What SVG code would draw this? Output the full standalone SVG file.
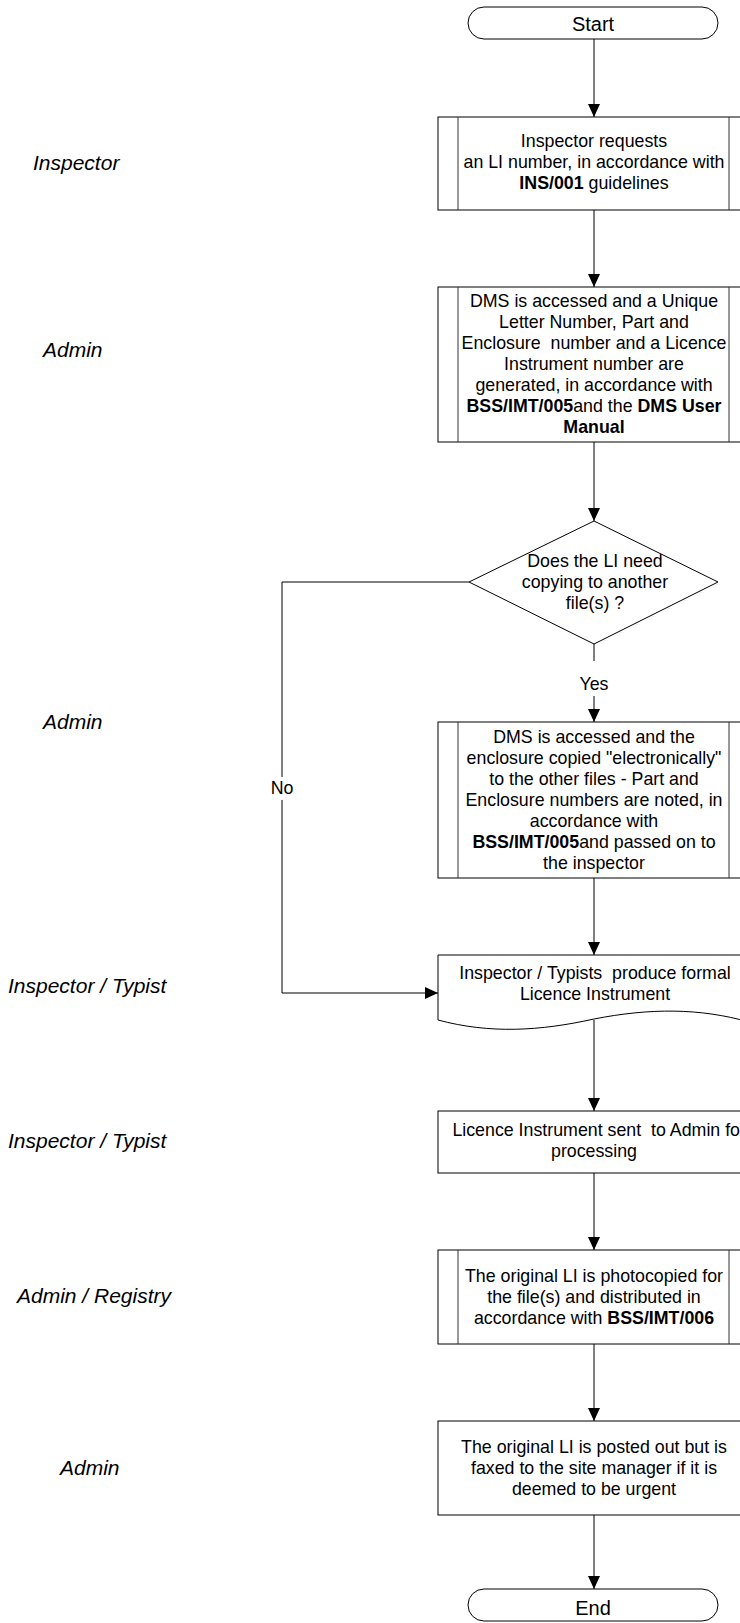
<svg xmlns="http://www.w3.org/2000/svg" width="740" height="1623" viewBox="0 0 740 1623">
<style>
.s{fill:#fff;stroke:#000;stroke-width:1}
.in{fill:none;stroke:#333;stroke-width:1}
.t{font-family:"Liberation Sans",Arial,sans-serif;font-size:17.8px;fill:#000;text-anchor:middle;white-space:pre}
.tt{font-family:"Liberation Sans",Arial,sans-serif;font-size:20px;fill:#000;text-anchor:middle}
.lab{font-family:"Liberation Sans",Arial,sans-serif;font-size:21px;font-style:italic;fill:#000}
.b{font-weight:bold}
.c{fill:none;stroke:#000;stroke-width:1}
</style>
<defs>
<marker id="ar" markerUnits="userSpaceOnUse" markerWidth="14" markerHeight="14" refX="13" refY="6" orient="auto">
<path d="M0,0 L13,6 L0,12 Z" fill="#000"/>
</marker>
</defs>
<rect width="740" height="1623" fill="#fff"/>

<g id="lanes">
<text class="lab" x="33" y="170">Inspector</text>
<text class="lab" x="43" y="357">Admin</text>
<text class="lab" x="43" y="729">Admin</text>
<text class="lab" x="8" y="993">Inspector / Typist</text>
<text class="lab" x="8" y="1148">Inspector / Typist</text>
<text class="lab" x="17" y="1303">Admin / Registry</text>
<text class="lab" x="60" y="1475">Admin</text>
</g>

<g id="connectors">
<line class="c" x1="594" y1="39" x2="594" y2="117" marker-end="url(#ar)"/>
<line class="c" x1="594" y1="210" x2="594" y2="287" marker-end="url(#ar)"/>
<line class="c" x1="594" y1="442" x2="594" y2="521" marker-end="url(#ar)"/>
<line class="c" x1="594" y1="644" x2="594" y2="722" marker-end="url(#ar)"/>
<polyline class="c" points="469,582 282,582 282,993 438,993" marker-end="url(#ar)"/>
<line class="c" x1="594" y1="878" x2="594" y2="955" marker-end="url(#ar)"/>
<line class="c" x1="594" y1="1020" x2="594" y2="1111" marker-end="url(#ar)"/>
<line class="c" x1="594" y1="1173" x2="594" y2="1250" marker-end="url(#ar)"/>
<line class="c" x1="594" y1="1344" x2="594" y2="1421" marker-end="url(#ar)"/>
<line class="c" x1="594" y1="1515" x2="594" y2="1589" marker-end="url(#ar)"/>
<rect x="577" y="661" width="34" height="35" fill="#fff"/>
<text class="t" x="594" y="690">Yes</text>
<rect x="268" y="777" width="28" height="23" fill="#fff"/>
<text class="t" x="282" y="794">No</text>
</g>

<g id="start">
<rect class="s" x="468" y="7" width="250" height="32" rx="16" ry="16"/>
<text class="tt" x="593" y="31">Start</text>
</g>

<g id="request">
<rect class="s" x="438" y="117" width="311" height="93"/>
<line class="in" x1="458" y1="117" x2="458" y2="210"/>
<line class="in" x1="729" y1="117" x2="729" y2="210"/>
<text class="t" x="594" y="147">Inspector requests</text>
<text class="t" x="594" y="168">an LI number, in accordance with</text>
<text class="t" x="594" y="189"><tspan class="b">INS/001</tspan> guidelines</text>
</g>

<g id="dms">
<rect class="s" x="438" y="287" width="311" height="155"/>
<line class="in" x1="458" y1="287" x2="458" y2="442"/>
<line class="in" x1="729" y1="287" x2="729" y2="442"/>
<text class="t" x="594" y="307">DMS is accessed and a Unique</text>
<text class="t" x="594" y="328">Letter Number, Part and</text>
<text class="t" x="594" y="349">Enclosure  number and a Licence</text>
<text class="t" x="594" y="370">Instrument number are</text>
<text class="t" x="594" y="391">generated, in accordance with</text>
<text class="t" x="594" y="412"><tspan class="b">BSS/IMT/005</tspan>and the <tspan class="b">DMS User</tspan></text>
<text class="t b" x="594" y="433">Manual</text>
</g>

<g id="decision">
<polygon class="s" points="594,521 718,582 594,644 469,582"/>
<text class="t" x="595" y="567">Does the LI need</text>
<text class="t" x="595" y="588">copying to another</text>
<text class="t" x="595" y="609">file(s) ?</text>
</g>

<g id="copy">
<rect class="s" x="438" y="722" width="311" height="156"/>
<line class="in" x1="458" y1="722" x2="458" y2="878"/>
<line class="in" x1="729" y1="722" x2="729" y2="878"/>
<text class="t" x="594" y="743">DMS is accessed and the</text>
<text class="t" x="594" y="764">enclosure copied "electronically"</text>
<text class="t" x="594" y="785">to the other files - Part and</text>
<text class="t" x="594" y="806">Enclosure numbers are noted, in</text>
<text class="t" x="594" y="827">accordance with</text>
<text class="t" x="594" y="848"><tspan class="b">BSS/IMT/005</tspan>and passed on to</text>
<text class="t" x="594" y="869">the inspector</text>
</g>

<g id="produce">
<path class="s" d="M438,955 H749 V1022 C700,1008 650,1008 594,1019 C540,1031 490,1034 438,1020 Z"/>
<text class="t" x="595" y="979">Inspector / Typists  produce formal</text>
<text class="t" x="595" y="1000">Licence Instrument</text>
</g>

<g id="send">
<rect class="s" x="438" y="1111" width="311" height="62"/>
<text class="t" x="740" y="1136" style="text-anchor:end">Licence Instrument sent  to Admin fo</text>
<text class="t" x="594" y="1157">processing</text>
</g>

<g id="photocopy">
<rect class="s" x="438" y="1250" width="311" height="94"/>
<line class="in" x1="458" y1="1250" x2="458" y2="1344"/>
<line class="in" x1="729" y1="1250" x2="729" y2="1344"/>
<text class="t" x="594" y="1282">The original LI is photocopied for</text>
<text class="t" x="594" y="1303">the file(s) and distributed in</text>
<text class="t" x="594" y="1324">accordance with <tspan class="b">BSS/IMT/006</tspan></text>
</g>

<g id="post">
<rect class="s" x="438" y="1421" width="311" height="94"/>
<text class="t" x="594" y="1453">The original LI is posted out but is</text>
<text class="t" x="594" y="1474">faxed to the site manager if it is</text>
<text class="t" x="594" y="1495">deemed to be urgent</text>
</g>

<g id="end">
<rect class="s" x="468" y="1589" width="250" height="32" rx="16" ry="16"/>
<text class="tt" x="593" y="1615">End</text>
</g>
</svg>
